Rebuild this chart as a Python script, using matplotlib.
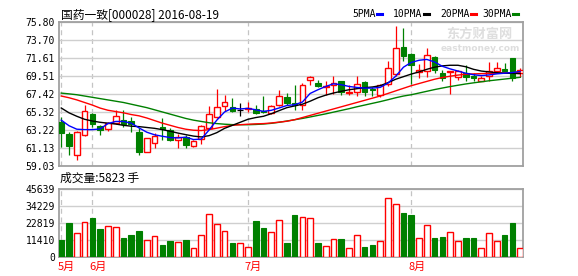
import numpy as np
import matplotlib.pyplot as plt
from matplotlib.lines import Line2D

plt.rcParams['font.family'] = ['DejaVu Sans Mono', 'Noto Sans CJK SC']

title = "国药一致[000028] 2016-08-19"
vol_title = "成交量:5823 手"

opens = [64.18, 62.79, 60.32, 62.60, 65.10, 63.67, 63.37, 64.06, 64.37, 64.30,
         62.94, 60.67, 61.71, 63.50, 63.25, 62.10, 62.40, 61.36, 62.21, 63.44,
         64.72, 65.99, 65.87, 65.49, 65.64, 65.64, 65.45, 65.18, 66.10, 67.05,
         66.34, 66.15, 69.03, 68.65, 68.15, 68.46, 68.92, 67.49, 67.61, 68.76,
         67.99, 67.30, 68.53, 69.75, 72.80, 72.04, 69.95, 70.00, 71.66, 69.82,
         69.92, 69.36, 69.80, 69.50, 68.92, 69.42, 70.07, 70.27, 71.54, 69.85]
highs = [64.70, 63.00, 63.10, 66.07, 65.20, 63.79, 64.18, 65.49, 65.56, 64.68,
         63.44, 62.30, 62.87, 64.60, 63.40, 62.70, 62.67, 62.00, 63.83, 65.95,
         67.95, 67.30, 66.91, 66.33, 66.45, 66.14, 67.18, 66.14, 67.88, 67.49,
         68.46, 68.65, 69.50, 69.03, 68.84, 69.42, 68.92, 68.46, 69.42, 68.84,
         68.15, 68.53, 71.20, 75.25, 75.10, 72.10, 70.90, 72.70, 71.81, 70.19,
         70.11, 70.19, 70.77, 69.88, 69.50, 71.15, 71.08, 70.96, 71.54, 70.40]
lows = [61.23, 60.28, 59.70, 62.50, 63.52, 62.64, 63.06, 63.95, 63.56, 62.98,
        60.28, 60.60, 61.09, 62.10, 61.90, 61.15, 61.13, 61.20, 61.60, 63.30,
        64.60, 65.37, 65.30, 64.79, 65.30, 65.10, 65.18, 65.10, 65.95, 66.14,
        65.56, 65.56, 68.46, 68.15, 67.30, 67.37, 67.30, 67.30, 67.18, 67.11,
        67.11, 67.03, 68.26, 69.50, 71.20, 68.55, 69.25, 69.34, 69.88, 68.84,
        67.35, 68.96, 68.84, 68.84, 68.84, 68.84, 69.88, 70.00, 68.84, 69.40]
closes = [62.81, 61.32, 63.02, 65.41, 63.91, 63.21, 64.02, 64.79, 63.95, 63.90,
          60.63, 62.29, 62.56, 63.35, 62.09, 62.35, 61.44, 61.98, 63.64, 65.06,
          65.87, 66.45, 65.37, 65.49, 65.76, 65.18, 65.30, 65.95, 67.18, 66.33,
          66.07, 68.46, 69.38, 68.26, 68.26, 68.65, 67.61, 67.61, 68.53, 67.61,
          67.84, 68.38, 70.40, 72.72, 71.75, 70.79, 70.21, 71.86, 70.13, 69.25,
          70.07, 70.05, 69.34, 69.19, 69.30, 70.07, 70.46, 70.11, 69.30, 70.15]
volumes = [11500, 22930, 15960, 23380, 26300, 18880, 20680, 20000, 12810, 14840,
           17530, 11460, 13940, 8090, 10790, 10120, 11460, 6070, 14610, 29000,
           22030, 17310, 9440, 9440, 6740, 24500, 19560, 16630, 24950, 9440,
           28320, 26750, 26080, 9440, 7190, 12140, 12140, 5845, 14610, 6740,
           8090, 10570, 39560, 35740, 29670, 28320, 12590, 21360, 12810, 13490,
           16630, 10570, 12810, 12810, 5845, 15960, 10570, 14840, 22930, 5823]

ma5 = [64.35, 63.70, 63.30, 63.25, 63.25, 63.33, 63.95, 64.20, 64.20, 64.00,
       63.45, 62.95, 62.65, 62.48, 62.33, 62.29, 62.38, 62.10, 62.15, 63.20,
       64.35, 65.30, 65.75, 65.65, 65.72, 65.55, 65.37, 65.49, 65.76, 66.05,
       66.14, 66.45, 67.45, 67.88, 68.26, 68.57, 68.46, 68.26, 68.15, 68.07,
       68.07, 68.15, 68.65, 69.45, 70.50, 71.05, 71.30, 71.40, 71.10, 70.60,
       70.30, 70.05, 69.80, 69.62, 69.52, 69.60, 69.72, 69.80, 69.88, 70.00]
ma10 = [65.76, 65.20, 64.80, 64.45, 64.25, 64.10, 64.00, 63.90, 63.75, 63.65,
        63.60, 63.50, 63.40, 63.25, 63.06, 62.85, 62.67, 62.50, 62.40, 62.55,
        62.90, 63.40, 63.75, 64.10, 64.45, 64.65, 64.80, 65.10, 65.45, 65.80,
        66.00, 66.20, 66.55, 66.95, 67.25, 67.50, 67.70, 67.88, 68.00, 68.12,
        68.20, 68.35, 68.70, 69.10, 69.40, 69.70, 69.95, 70.25, 70.50, 70.65,
        70.72, 70.72, 70.55, 70.25, 70.05, 69.95, 69.85, 69.80, 69.78, 69.75]
ma20 = [67.15, 66.95, 66.70, 66.40, 66.10, 65.75, 65.50, 65.35, 65.20, 65.00,
        64.85, 64.60, 64.30, 64.00, 63.75, 63.50, 63.30, 63.18, 63.14, 63.25,
        63.42, 63.60, 63.75, 63.82, 63.88, 63.92, 63.95, 64.02, 64.12, 64.22,
        64.40, 64.65, 64.90, 65.15, 65.40, 65.65, 65.90, 66.15, 66.40, 66.65,
        66.90, 67.15, 67.45, 67.75, 68.05, 68.35, 68.60, 68.85, 69.10, 69.30,
        69.45, 69.58, 69.68, 69.72, 69.75, 69.78, 69.80, 69.82, 69.85, 69.90]
ma30 = [67.49, 67.40, 67.30, 67.15, 67.00, 66.85, 66.70, 66.55, 66.40, 66.20,
        66.00, 65.80, 65.55, 65.30, 65.05, 64.80, 64.55, 64.35, 64.20, 64.05,
        63.95, 63.88, 63.83, 63.82, 63.82, 63.85, 63.90, 63.98, 64.10, 64.25,
        64.40, 64.55, 64.72, 64.90, 65.08, 65.28, 65.48, 65.68, 65.90, 66.10,
        66.30, 66.50, 66.72, 66.95, 67.15, 67.30, 67.50, 67.70, 67.90, 68.08,
        68.25, 68.40, 68.55, 68.68, 68.80, 68.92, 69.02, 69.12, 69.22, 69.32]

month_labels = ['5月', '6月', '7月', '8月']
month_starts = [0, 4, 24, 45]
price_ticks = [59.03, 61.13, 63.22, 65.32, 67.42, 69.51, 71.61, 73.70, 75.80]
vol_ticks = [0, 11410, 22819, 34229, 45639]

RED = '#ff0000'
GREEN = '#008000'
GRID = '#cfcfcf'
BORDER = '#a0a0a0'

o = np.array(opens); h = np.array(highs); l = np.array(lows); c = np.array(closes)
x = np.arange(len(o))
up = c > o
down = c < o
flat = c == o
top = np.maximum(o, c)
bot = np.minimum(o, c)
w = 0.73

fig = plt.figure(figsize=(5.78, 2.76), dpi=100)
ax = fig.add_axes([0.1026, 0.3986, 0.8022, 0.5235])
ax2 = fig.add_axes([0.1026, 0.0688, 0.8022, 0.2453])

for a in (ax, ax2):
    a.set_xlim(-0.25, 59.36)
    a.set_xticks([])
    for s in a.spines.values():
        s.set_color(BORDER)
        s.set_linewidth(1.3)
    a.tick_params(axis='y', length=0, pad=3, labelsize=7, colors='black')
    for m in month_starts:
        a.axvline(m, color='#c4c4c4', lw=0.9, ls=(0, (4, 3)), zorder=1)

# price panel
ax.set_ylim(price_ticks[0], price_ticks[-1])
ax.set_yticks(price_ticks)
ax.set_yticklabels(['%.2f' % t for t in price_ticks])
ax.grid(axis='y', color=GRID, lw=1.0, zorder=0)

# watermark
ax.text(0.907, 0.915, '东方财富网', transform=ax.transAxes, ha='center', va='center',
        fontsize=9.5, fontweight='bold', color='#dedede', family='Noto Sans CJK SC', zorder=1)
ax.text(0.907, 0.815, 'eastmoney.com', transform=ax.transAxes, ha='center', va='center',
        fontsize=6.5, fontweight='bold', color='#dedede', family='DejaVu Sans', zorder=1)

# wicks
ax.vlines(x[down], l[down], h[down], color=GREEN, lw=0.9, zorder=3)
ax.vlines(x[up], top[up], h[up], color=RED, lw=0.9, zorder=3)
ax.vlines(x[up], l[up], bot[up], color=RED, lw=0.9, zorder=3)
ax.vlines(x[flat], l[flat], h[flat], color='black', lw=0.9, zorder=3)
ax.hlines(c[flat], x[flat] - w / 2, x[flat] + w / 2, color='black', lw=0.9, zorder=3)
# bodies
ax.bar(x[down], (top - bot)[down], w, bottom=bot[down], color=GREEN, edgecolor=GREEN,
       lw=0.8, zorder=3)
ax.bar(x[up], (top - bot)[up], w, bottom=bot[up], facecolor='white', edgecolor=RED,
       lw=1.0, zorder=3)

ax.plot(x, ma30, color=GREEN, lw=1.0, zorder=4)
ax.plot(x, ma20, color=RED, lw=1.0, zorder=4)
ax.plot(x, ma10, color='black', lw=1.0, zorder=4)
ax.plot(x, ma5, color='#0000ff', lw=1.0, zorder=4)

# volume panel
vol = np.array(volumes)
ax2.set_ylim(vol_ticks[0], vol_ticks[-1])
ax2.set_yticks(vol_ticks)
ax2.set_yticklabels([str(t) for t in vol_ticks])
ax2.grid(axis='y', color=GRID, lw=1.0, zorder=0)
vup = c >= o
ax2.bar(x[~vup], vol[~vup], w, color=GREEN, edgecolor=GREEN, lw=0.8, zorder=3)
ax2.bar(x[vup], vol[vup], w, facecolor='white', edgecolor=RED, lw=1.0, zorder=3)

for m, lab in zip(month_starts, month_labels):
    ax2.text(m - 0.42, -0.07, lab, transform=ax2.get_xaxis_transform(), ha='left', va='top',
             color=RED, fontsize=8, family=['Noto Sans CJK SC'])

# titles
fig.text(0.1055, 0.948, title, ha='left', va='center', fontsize=8.5,
         family=['Noto Sans CJK SC'])
fig.text(0.104, 0.354, vol_title, ha='left', va='center', fontsize=8.5,
         family=['Noto Sans CJK SC'])

# legend
leg = [('5PMA', '#0000ff', 352), ('10PMA', 'black', 393), ('20PMA', RED, 440),
       ('30PMA', GREEN, 482)]
for name, col, px in leg:
    fig.text(px / 578, 1 - 14 / 276, name, ha='left', va='center', fontsize=7)
    xe = px + len(name) * 5.85 + 1.5
    fig.add_artist(Line2D([xe / 578, (xe + 5.5) / 578], [1 - 14 / 276] * 2,
                          transform=fig.transFigure, color=col, lw=2.2))

fig.savefig('out.png', dpi=100)
